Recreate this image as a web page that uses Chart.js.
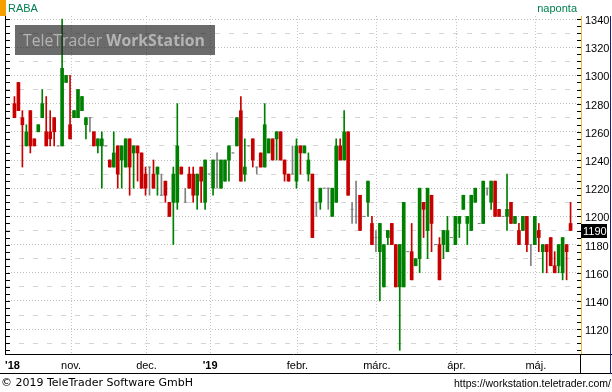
<!DOCTYPE html>
<html>
<head>
<meta charset="utf-8">
<script src="https://cdn.jsdelivr.net/npm/chart.js@4"></script>
<style>
html, body { margin: 0; padding: 0; background: #fff; }
canvas { display: block; }
</style>
</head>
<body>
<canvas id="chart" width="612" height="392"></canvas>
<script>
// daily candles, RABA, Oct 2018 - May 2019
const opens = [
  1280,1295,1270,1250,1275,1255,1260,1270,1260,1260,1270,1250,1250,1295,1265,1270,1270,1275,1265,1270,
  1260,1250,1250,1250,1240,1235,1250,1240,1235,1255,1245,1250,1245,1230,1235,1230,1230,1215,1225,1210,
  1210,1210,1235,1210,1230,1230,1215,1235,1210,1230,1220,1240,1220,1225,1240,1245,1250,1275,1230,1250,
  1255,1235,1245,1235,1245,1255,1255,1260,1240,1230,1230,1225,1250,1245,1230,1230,1210,1210,1220,1220,
  1200,1210,1250,1240,1260,1205,1200,1215,1200,1210,1195,1185,1175,1150,1185,1195,1180,1150,1150,1175,
  1175,1165,1170,1210,1190,1215,1180,1180,1180,1175,1185,1180,1195,1205,1195,1190,1210,1195,1195,1220,
  1210,1225,1205,1200,1200,1210,1195,1190,1190,1200,1180,1180,1190,1175,1180,1185,1165,1165,1160,1180,
  1195
];
const highs = [
  1285,1295,1275,1265,1275,1255,1265,1290,1285,1275,1270,1250,1340,1300,1300,1275,1290,1285,1270,1270,
  1260,1255,1260,1250,1240,1260,1250,1250,1255,1255,1250,1250,1245,1235,1235,1240,1235,1230,1225,1210,
  1235,1280,1235,1220,1235,1235,1230,1235,1240,1230,1240,1245,1240,1240,1250,1245,1270,1285,1255,1250,
  1255,1235,1245,1280,1255,1255,1260,1260,1240,1230,1250,1255,1250,1250,1245,1230,1210,1220,1220,1220,
  1220,1255,1255,1275,1260,1210,1225,1215,1200,1225,1200,1190,1195,1180,1190,1195,1180,1180,1210,1175,
  1195,1170,1220,1210,1220,1215,1180,1185,1190,1200,1185,1200,1200,1215,1200,1215,1220,1195,1225,1220,
  1225,1225,1205,1200,1230,1210,1200,1195,1200,1200,1180,1200,1195,1180,1180,1185,1175,1180,1185,1180,
  1210
];
const lows = [
  1270,1275,1235,1250,1245,1250,1260,1270,1250,1250,1250,1250,1250,1295,1255,1270,1270,1275,1255,1260,
  1250,1245,1220,1250,1235,1235,1220,1220,1235,1215,1220,1225,1220,1215,1215,1220,1215,1215,1210,1200,
  1180,1205,1230,1210,1220,1210,1205,1210,1205,1230,1215,1220,1220,1225,1225,1245,1250,1225,1225,1250,
  1235,1230,1235,1235,1245,1240,1240,1240,1225,1225,1230,1220,1230,1245,1225,1185,1200,1205,1220,1205,
  1200,1210,1240,1240,1215,1195,1195,1190,1200,1200,1180,1175,1140,1150,1180,1180,1150,1105,1150,1175,
  1155,1165,1160,1185,1170,1175,1180,1155,1170,1175,1185,1180,1185,1205,1180,1190,1210,1195,1195,1215,
  1205,1200,1200,1200,1190,1195,1195,1180,1190,1175,1165,1180,1175,1160,1160,1165,1160,1160,1155,1155,
  1190
];
const closes = [
  1270,1275,1265,1260,1250,1250,1265,1280,1250,1255,1260,1250,1305,1300,1255,1275,1290,1285,1270,1270,
  1250,1255,1255,1250,1235,1245,1230,1250,1255,1235,1250,1245,1220,1220,1235,1220,1235,1215,1215,1200,
  1230,1250,1230,1210,1220,1215,1230,1225,1240,1230,1240,1240,1240,1240,1250,1245,1270,1225,1235,1250,
  1240,1235,1235,1265,1255,1240,1260,1240,1230,1225,1230,1250,1245,1250,1240,1185,1210,1220,1220,1220,
  1220,1250,1240,1260,1215,1205,1200,1190,1200,1225,1180,1185,1195,1180,1190,1180,1150,1180,1210,1175,
  1155,1170,1220,1205,1220,1195,1180,1155,1190,1190,1185,1200,1200,1215,1200,1215,1220,1195,1225,1220,
  1225,1200,1200,1200,1205,1195,1200,1180,1200,1180,1180,1200,1185,1180,1175,1165,1160,1180,1185,1175,
  1190
];

// x axis: first trading day of each month (candle index)
const monthStarts = [14, 33, 49, 71, 91, 111, 131];
const monthNames = ['nov.', 'dec.', "'19", 'febr.', 'márc.', 'ápr.', 'máj.'];
const firstLabel = "'18";

const GREEN = '#008000';
const RED = '#c80000';
const GREY = '#808080';

const idx = opens.map((_, k) => k);
const colorOf = k => closes[k] > opens[k] ? GREEN : (closes[k] < opens[k] ? RED : GREY);
const bodyIdx = idx.filter(k => closes[k] !== opens[k]);
const dojiIdx = idx.filter(k => closes[k] === opens[k]);

const xTickValues = [-0.5].concat(monthStarts.map(k => k + 0.25));
const xTickLabels = [firstLabel].concat(monthNames);

const yMin = 1102.41, yMax = 1342.13;

const decor = {
  id: 'decor',
  afterDatasetsDraw(chart) {
    const ctx = chart.ctx;
    // watermark
    ctx.save();
    ctx.fillStyle = 'rgba(30,30,30,0.66)';
    ctx.fillRect(15, 25, 200, 30);
    const a = 'TeleTrader ', b = 'WorkStation';
    let size = 20;
    ctx.font = size + 'px "Open Sans"';
    const wa = ctx.measureText(a).width;
    ctx.font = 'bold ' + size + 'px "Open Sans"';
    const wb = ctx.measureText(b).width;
    size = size * 182 / (wa + wb);
    ctx.fillStyle = '#b4b4b4';
    ctx.textBaseline = 'alphabetic';
    ctx.font = size + 'px "Open Sans"';
    ctx.fillText(a, 23, 46);
    const w2 = ctx.measureText(a).width;
    ctx.font = 'bold ' + size + 'px "Open Sans"';
    ctx.fillText(b, 23 + w2, 46);
    ctx.restore();
  },
  afterDraw(chart) {
    const ctx = chart.ctx;
    const area = chart.chartArea;
    const y = chart.scales.y;
    ctx.save();
    // inward tick marks on both sides
    ctx.strokeStyle = '#000';
    ctx.lineWidth = 1;
    ctx.beginPath();
    y.ticks.forEach(t => {
      const py = Math.round(y.getPixelForValue(t.value)) + 0.5;
      ctx.moveTo(area.left, py); ctx.lineTo(area.left + 5, py);
      ctx.moveTo(area.right - 4, py); ctx.lineTo(area.right, py);
    });
    ctx.stroke();

    // frame pieces
    ctx.beginPath();
    ctx.moveTo(area.right, 354.5); ctx.lineTo(612, 354.5);
    ctx.moveTo(0, 373.5); ctx.lineTo(612, 373.5);
    ctx.moveTo(580.5, 354); ctx.lineTo(580.5, 374);
    ctx.stroke();
    ctx.strokeStyle = '#1c1c8c';
    ctx.beginPath();
    ctx.moveTo(610.5, 16); ctx.lineTo(610.5, 374);
    ctx.stroke();

    // last price marker
    const last = closes[closes.length - 1];
    const py = y.getPixelForValue(last);
    ctx.fillStyle = '#000';
    ctx.fillRect(area.right, Math.round(py) - 7, 26, 14);
    ctx.fillStyle = '#fff';
    ctx.font = '11px "Liberation Sans"';
    ctx.textBaseline = 'middle';
    ctx.textAlign = 'left';
    ctx.fillText(String(last), area.right + 2, Math.round(py) + 0.5);

    // header
    ctx.fillStyle = '#f5a000';
    ctx.fillRect(0, 0, 6, 16);
    ctx.fillStyle = '#008050';
    ctx.font = '11px "Liberation Sans"';
    ctx.fillText('RABA', 8, 9);
    ctx.textAlign = 'right';
    ctx.fillText('naponta', 577, 9);

    // footer
    ctx.fillStyle = '#000';
    ctx.textAlign = 'left';
    ctx.font = '11px "DejaVu Sans"';
    ctx.fillText('\u00a9 2019 TeleTrader Software GmbH', 1, 383);
    ctx.textAlign = 'right';
    ctx.font = '10.5px "Liberation Sans"';
    ctx.fillText('https://workstation.teletrader.com/', 611, 384);
    ctx.restore();
  }
};

new Chart(document.getElementById('chart'), {
  type: 'bar',
  data: {
    datasets: [
      {
        type: 'bar',
        data: idx.map(k => ({ x: k, y: [lows[k], highs[k]] })),
        backgroundColor: idx.map(colorOf),
        barThickness: 1,
        grouped: false,
        order: 3,
      },
      {
        type: 'bar',
        data: bodyIdx.map(k => ({ x: k, y: [Math.min(opens[k], closes[k]), Math.max(opens[k], closes[k])] })),
        backgroundColor: bodyIdx.map(colorOf),
        barThickness: 3,
        grouped: false,
        order: 2,
      },
      {
        type: 'scatter',
        data: dojiIdx.map(k => ({ x: k, y: closes[k] })),
        pointStyle: 'line',
        pointRadius: 1.5,
        pointHoverRadius: 1.5,
        borderColor: GREY,
        borderWidth: 1,
        order: 1,
      },
    ],
  },
  options: {
    responsive: false,
    animation: false,
    devicePixelRatio: 1,
    layout: { padding: { top: 16, left: 0, right: 0, bottom: 0 } },
    plugins: { legend: { display: false }, tooltip: { enabled: false } },
    scales: {
      x: {
        type: 'linear',
        position: 'bottom',
        offset: false,
        min: -2.375,
        max: 142.625,
        afterBuildTicks: s => { s.ticks = xTickValues.map(v => ({ value: v })); },
        afterFit: s => { s.height = 38; },
        grid: {
          offset: false,
          color: c => (c.index === 0 ? 'rgba(0,0,0,0)' : '#c4c4c4'),
          drawTicks: false,
        },
        border: { color: '#000', dash: c => (c.tick ? [1, 2] : []) },
        ticks: {
          autoSkip: false,
          maxRotation: 0,
          padding: 5,
          color: '#000',
          callback: (v, i) => xTickLabels[i],
          font: c => ({
            family: '"Liberation Sans"',
            size: 11,
            weight: xTickLabels[c.index] && xTickLabels[c.index][0] === "'" ? 'bold' : 'normal',
          }),
        },
      },
      y: {
        type: 'linear',
        position: 'right',
        min: yMin,
        max: yMax,
        afterFit: s => { s.width = 31; },
        grid: {
          drawTicks: false,
          color: c => {
            if (!c.tick) return 'rgba(0,0,0,0)';
            const v = Math.round(c.tick.value);
            if (v % 20 === 0) return '#c0c0c0';
            if (v % 10 === 0) return '#d4d4d4';
            return 'rgba(0,0,0,0)';
          },
        },
        border: {
          color: '#f0c020',
          dash: c => {
            if (!c.tick) return [];
            return Math.round(c.tick.value) % 20 === 0 ? [1, 2] : [5, 9];
          },
        },
        ticks: {
          stepSize: 5,
          includeBounds: false,
          autoSkip: false,
          padding: 4,
          labelOffset: 2,
          color: '#000',
          font: { family: '"Liberation Sans"', size: 11 },
          callback: v => (Math.round(v) % 20 === 0 ? String(Math.round(v)) : ''),
        },
      },
      yl: {
        type: 'linear',
        position: 'left',
        min: yMin,
        max: yMax,
        afterFit: s => { s.width = 1; },
        grid: { drawOnChartArea: false, drawTicks: false },
        border: { color: '#000' },
        ticks: { display: false, stepSize: 5, includeBounds: false },
      },
    },
  },
  plugins: [decor],
});
</script>
</body>
</html>
